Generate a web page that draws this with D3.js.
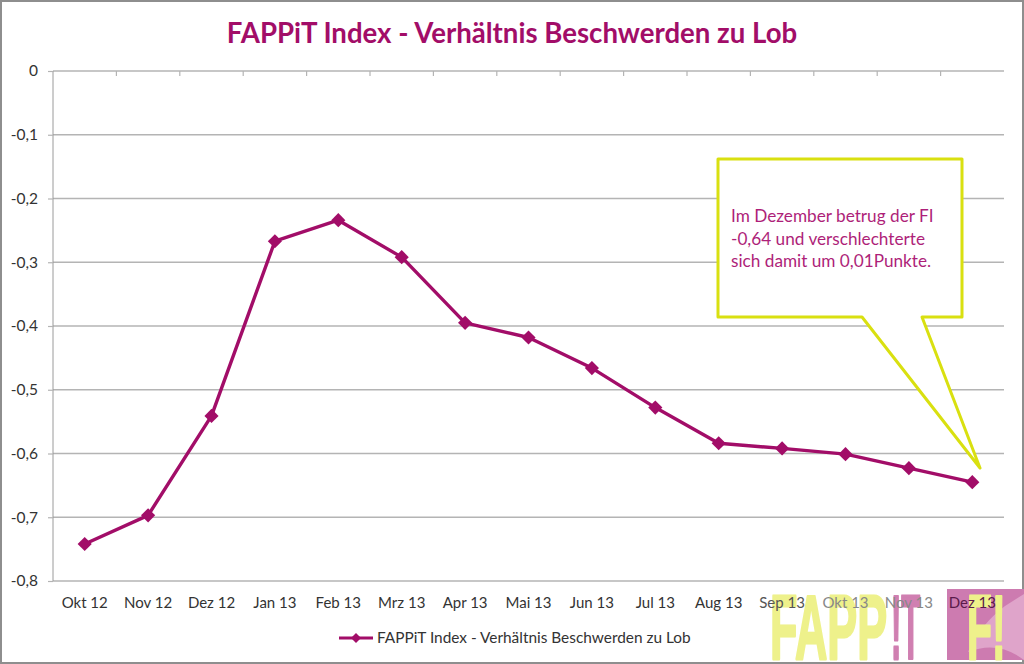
<!DOCTYPE html>
<html>
<head>
<meta charset="utf-8">
<script src="https://cdn.jsdelivr.net/npm/d3@7"></script>
<style>
  html, body { margin: 0; padding: 0; background: #fff; }
  svg { display: block; font-family: Lato, "Open Sans", sans-serif; }
</style>
</head>
<body>
<svg id="chart" width="1024" height="664"></svg>
<script>
const seriesName = "FAPPiT Index - Verhältnis Beschwerden zu Lob";
const months = ["Okt 12", "Nov 12", "Dez 12", "Jan 13", "Feb 13", "Mrz 13", "Apr 13", "Mai 13",
                "Jun 13", "Jul 13", "Aug 13", "Sep 13", "Okt 13", "Nov 13", "Dez 13"];
const values = [-0.742, -0.697, -0.541, -0.267, -0.234, -0.292, -0.395, -0.418,
                -0.466, -0.528, -0.584, -0.592, -0.601, -0.623, -0.645];
const yTicks = [0, -0.1, -0.2, -0.3, -0.4, -0.5, -0.6, -0.7, -0.8];
const calloutLines = ["Im Dezember betrug der FI", "-0,64 und verschlechterte", "sich damit um 0,01Punkte."];

const purple = "#a20d68";
const lime = "#d9e010";
const gridColor = "#b4b4b4";

const svg = d3.select("#chart");

const x = d3.scaleBand().domain(months).range([53, 1004]);
const y = d3.scaleLinear().domain([0, -0.8]).range([71, 581]);

// outer frame
svg.append("rect")
    .attr("x", 1).attr("y", 1)
    .attr("width", 1022).attr("height", 662)
    .attr("fill", "#fff")
    .attr("stroke", "#8e8e8e")
    .attr("stroke-width", 2);

svg.append("text")
    .attr("x", 512).attr("y", 43)
    .attr("text-anchor", "middle")
    .attr("font-size", 27.6)
    .attr("font-weight", 700)
    .attr("fill", purple)
    .text(seriesName);

// gridlines
svg.append("g").selectAll("line")
    .data(yTicks)
    .enter().append("line")
    .attr("x1", 53).attr("x2", 1004)
    .attr("y1", d => y(d)).attr("y2", d => y(d))
    .attr("stroke", gridColor)
    .attr("stroke-width", 1.4);

// y axis
const yAxis = d3.axisLeft(y)
    .tickValues(yTicks)
    .tickSize(5)
    .tickPadding(10)
    .tickFormat(d => String(d).replace(".", ","));
const yG = svg.append("g").attr("transform", "translate(53,0)").call(yAxis);
yG.select(".domain").attr("stroke", "#9a9a9a").attr("d", "M0,71V581");
yG.selectAll("line").attr("stroke", gridColor).attr("stroke-width", 1.2);
yG.selectAll("text").attr("font-family", "Lato").attr("font-size", 15.5).attr("fill", "#333");

// category ticks hang below the zero line
svg.append("g").selectAll("line")
    .data(months.slice(1))
    .enter().append("line")
    .attr("x1", d => x(d)).attr("x2", d => x(d))
    .attr("y1", 71).attr("y2", 76)
    .attr("stroke", gridColor)
    .attr("stroke-width", 1.2);

// logo, behind the month labels
const logo = svg.append("g")
    .attr("font-family", "Liberation Sans")
    .attr("font-weight", 700)
    .attr("stroke-linejoin", "round");
logo.append("rect")
    .attr("x", 947).attr("y", 589)
    .attr("width", 77).attr("height", 71)
    .attr("fill", "#cd7bb0");
logo.append("path")
    .attr("d", "M1024,594 L1005,606 Q980,625 968,652 Q998,640 1024,660 Z")
    .attr("fill", "#dfa4ca");
logo.append("text")
    .attr("transform", "translate(770,659) scale(0.68,1.38)")
    .attr("font-size", 66)
    .attr("fill", "#eef18b")
    .attr("stroke", "#eef18b")
    .attr("stroke-width", 2)
    .text("FAPP");
logo.append("text")
    .attr("transform", "translate(891,659) scale(0.47,1.38)")
    .attr("font-size", 66)
    .attr("fill", "#d07fb1")
    .attr("stroke", "#d07fb1")
    .attr("stroke-width", 2)
    .text("!T");
logo.append("text")
    .attr("transform", "translate(967,659) scale(0.62,1.38)")
    .attr("font-size", 66)
    .attr("fill", "#eef18b")
    .attr("stroke", "#eef18b")
    .attr("stroke-width", 2)
    .text("F!");

// month labels, the ones over the logo fade out
const labelColors = { "Sep 13": "#555", "Okt 13": "#888", "Nov 13": "#888", "Dez 13": "#5a1a4a" };
svg.append("g").selectAll("text")
    .data(months)
    .enter().append("text")
    .attr("x", d => x(d) + x.bandwidth() / 2)
    .attr("y", 608)
    .attr("text-anchor", "middle")
    .attr("font-size", 15)
    .attr("fill", d => labelColors[d] || "#333")
    .text(d => d);

// callout
const tailLine = [[718, 159], [962, 159], [962, 317], [922, 317], [980, 468], [862, 317], [718, 317]];
svg.append("path")
    .attr("d", d3.line()(tailLine) + "Z")
    .attr("fill", "#fff")
    .attr("stroke", lime)
    .attr("stroke-width", 3)
    .attr("stroke-linejoin", "round");

// series line
const line = d3.line()
    .x((d, i) => x(months[i]) + x.bandwidth() / 2)
    .y(d => y(d));
svg.append("path")
    .datum(values)
    .attr("d", line)
    .attr("fill", "none")
    .attr("stroke", purple)
    .attr("stroke-width", 3.4)
    .attr("stroke-linejoin", "round");

const diamond = d3.symbol().type(d3.symbolSquare).size(100);
svg.append("g").selectAll("path")
    .data(values)
    .enter().append("path")
    .attr("d", diamond)
    .attr("transform", (d, i) => `translate(${x(months[i]) + x.bandwidth() / 2},${y(d)}) rotate(45)`)
    .attr("fill", purple);

svg.append("g").selectAll("text")
    .data(calloutLines)
    .enter().append("text")
    .attr("x", 731)
    .attr("y", (d, i) => 222 + i * 22.7)
    .attr("font-size", 17.2)
    .attr("fill", "#ae1f79")
    .text(d => d);

// legend
svg.append("line")
    .attr("x1", 339).attr("x2", 373)
    .attr("y1", 638).attr("y2", 638)
    .attr("stroke", purple)
    .attr("stroke-width", 3);
svg.append("path")
    .attr("d", d3.symbol().type(d3.symbolSquare).size(50))
    .attr("transform", "translate(356,638) rotate(45)")
    .attr("fill", purple);
svg.append("text")
    .attr("x", 377).attr("y", 643)
    .attr("font-size", 15.4)
    .attr("fill", "#333")
    .text(seriesName);
</script>
</body>
</html>
